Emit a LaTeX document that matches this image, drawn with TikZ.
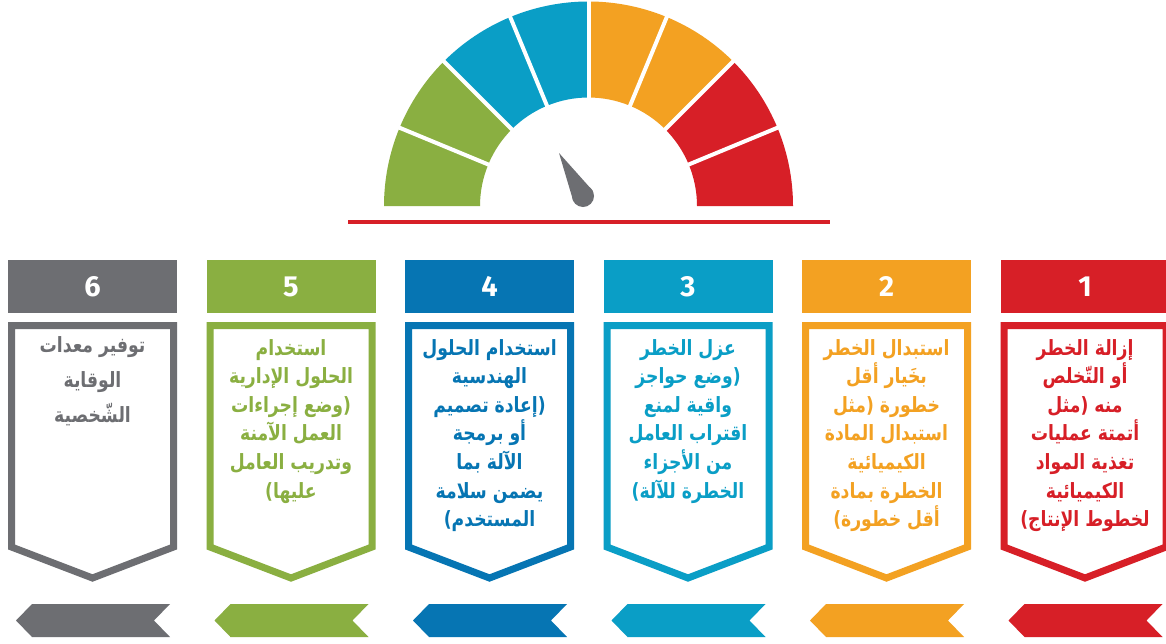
\documentclass[tikz,border=0pt]{standalone}
\usepackage{fontspec}
\newfontfamily\arabicfont[Script=Arabic,FakeStretch=0.82]{DejaVu Sans}
\newfontfamily\numfont{Fira Sans}
\TeXXeTstate=1
\newcommand{\arl}[1]{\beginR #1\endR}
\definecolor{cRed}{HTML}{D71F27}
\definecolor{cOrange}{HTML}{F3A122}
\definecolor{cCyan}{HTML}{0A9EC6}
\definecolor{cBlue}{HTML}{0675B3}
\definecolor{cGreen}{HTML}{8AAF41}
\definecolor{cGray}{HTML}{6D6E72}
\begin{document}
\begin{tikzpicture}[x=1pt,y=-1pt,
  numtext/.style={text=white,font=\numfont\bfseries\fontsize{29}{30}\selectfont,anchor=center},
  boxline/.style={draw=#1,line width=7pt,fill=white,line join=miter},
  bodytext/.style={text=#1,align=center,anchor=north,inner sep=0pt,
    font=\arabicfont\bfseries\fontsize{21}{28.6}\selectfont}]
\useasboundingbox[fill=white] (0,0) rectangle (1166,643);

% gauge dial: eight annular sectors, centre (588.5,206)
\begin{scope}[shift={(588.5,206)},yscale=-1]
  \foreach \i/\col in {0/cGreen,1/cGreen,2/cCyan,3/cCyan,4/cOrange,5/cOrange,6/cRed,7/cRed}{
    \pgfmathsetmacro{\aa}{180-22.5*\i}
    \pgfmathsetmacro{\ab}{180-22.5*(\i+1)}
    \fill[\col] (\aa:204.5) arc[start angle=\aa,end angle=\ab,radius=204.5]
      -- (\ab:108.5) arc[start angle=\ab,end angle=\aa,radius=108.5] -- cycle;
  }
  \foreach \a in {22.5,45,67.5,90,112.5,135,157.5}{
    \draw[white,line width=4pt] (\a:105) -- (\a:208);
  }
\end{scope}

% needle
\coordinate (hub) at (583,196);
\coordinate (tip) at (559,153);
\fill[cGray] (tip) -- (592.6,190.6) -- (573.4,201.4) -- cycle;
\fill[cGray] (hub) circle[radius=11];

% baseline under the dial
\fill[cRed] (348,220) rectangle (830,224);

% columns: header, framed chevron box, left-pointing ribbon
\foreach \n/\L/\col in {6/8/cGray,5/206.5/cGreen,4/405/cBlue,3/603.5/cCyan,2/802/cOrange,1/1000.5/cRed}{
  \fill[\col] (\L,260) rectangle ++(169,53);
  \node[numtext] (num\n) at (\L+84.5,286.5) {\n};
  \draw[boxline=\col] (\L+3.5,325.5) -- (\L+165.5,325.5) -- (\L+165.5,547)
     -- (\L+84.5,578) -- (\L+3.5,547) -- cycle;
  \fill[\col] (\L+24,604) -- (\L+162,604) -- (\L+146,620.5) -- (\L+162,637)
     -- (\L+24,637) -- (\L+8,620.5) -- cycle;
}

\node[bodytext=cRed] (t1) at (1085,339) {\arl{إزالة الخطر}\\\arl{أو التّخلص}\\\arl{منه (مثل}\\\arl{أتمتة عمليات}\\\arl{تغذية المواد}\\\arl{الكيميائية}\\\arl{لخطوط الإنتاج)}};
\node[bodytext=cOrange] (t2) at (886.5,339) {\arl{استبدال الخطر}\\\arl{بخَيار أقل}\\\arl{خطورة (مثل}\\\arl{استبدال المادة}\\\arl{الكيميائية}\\\arl{الخطرة بمادة}\\\arl{أقل خطورة)}};
\node[bodytext=cCyan] (t3) at (688,339) {\arl{عزل الخطر}\\\arl{(وضع حواجز}\\\arl{واقية لمنع}\\\arl{اقتراب العامل}\\\arl{من الأجزاء}\\\arl{الخطرة للآلة)}};
\node[bodytext=cBlue] (t4) at (489.5,339) {\arl{استخدام الحلول}\\\arl{الهندسية}\\\arl{(إعادة تصميم}\\\arl{أو برمجة}\\\arl{الآلة بما}\\\arl{يضمن سلامة}\\\arl{المستخدم)}};
\node[bodytext=cGreen] (t5) at (291,339) {\arl{استخدام}\\\arl{الحلول الإدارية}\\\arl{(وضع إجراءات}\\\arl{العمل الآمنة}\\\arl{وتدريب العامل}\\\arl{عليها)}};
\node[bodytext=cGray,font=\arabicfont\bfseries\fontsize{21}{35}\selectfont] (t6) at (92.5,336) {\arl{توفير معدات}\\\arl{الوقاية}\\\arl{الشّخصية}};
\end{tikzpicture}
\end{document}
